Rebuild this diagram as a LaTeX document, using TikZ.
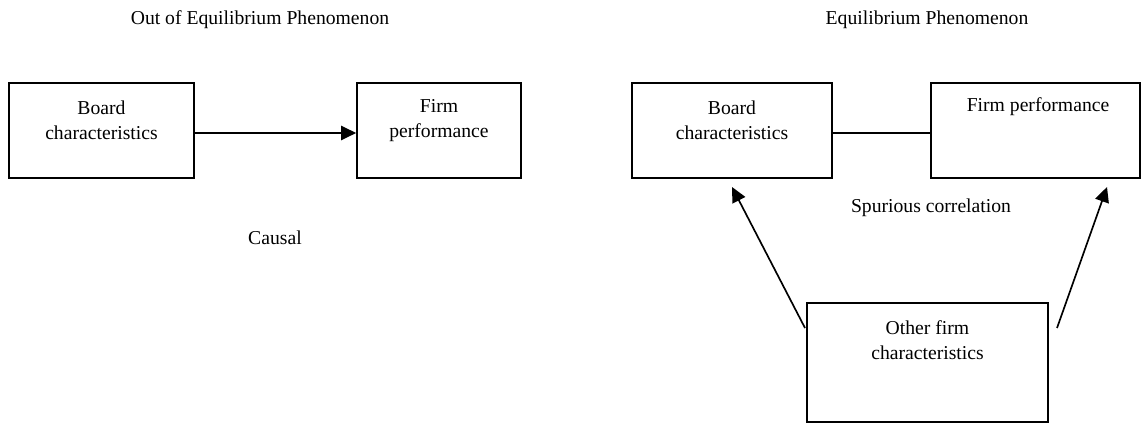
\documentclass[tikz,border=0pt]{standalone}
\usepackage{fontspec}
\setmainfont{Liberation Serif}
\usetikzlibrary{arrows.meta}
\begin{document}
\begin{tikzpicture}[x=0.6pt,y=-0.6pt,
  box/.style={draw,line width=1pt,inner sep=0pt},
  txt/.style={font=\fontsize{11.8}{15}\selectfont,align=center,inner sep=0pt},
  link/.style={line width=1pt},
  arr/.style={link,-{Triangle[length=9pt,width=8.5pt]}}]
  \useasboundingbox (0,0) rectangle (1143,423);

  % boxes
  \node[box,minimum width=185*0.6pt,minimum height=95*0.6pt] (b1) at (101.5,130.5) {};
  \node[box,minimum width=164*0.6pt,minimum height=95*0.6pt] (p1) at (439,130.5) {};
  \node[box,minimum width=200*0.6pt,minimum height=95*0.6pt] (b2) at (732,130.5) {};
  \node[box,minimum width=209*0.6pt,minimum height=95*0.6pt] (p2) at (1035.5,130.5) {};
  \node[box,minimum width=241*0.6pt,minimum height=119*0.6pt] (o) at (927.5,362.5) {};

  % box texts
  \node[txt] (tb1) at (101.5,120) {Board\\characteristics};
  \node[txt] (tp1) at (439,120.5) {Firm\\performance};
  \node[txt] (tb2) at (732,120) {Board\\characteristics};
  \node[txt] (tp2) at (1038,107) {Firm performance};
  \node[txt] (to) at (927.5,340.5) {Other firm\\characteristics};

  % headings and captions
  \node[txt] (h1) at (260,20) {Out of Equilibrium Phenomenon};
  \node[txt] (h2) at (927,20) {Equilibrium Phenomenon};
  \node[txt] (c1) at (275,238) {Causal};
  \node[txt] (c2) at (931,208) {Spurious correlation};

  % connectors
  \draw[arr] (b1.east |- 0,133) -- (p1.west |- 0,133);
  \draw[link] (b2.east |- 0,133) -- (p2.west |- 0,133);

  \coordinate (oL) at (805,328);
  \coordinate (bT) at (732,187);
  \coordinate (oR) at (1057,328);
  \coordinate (pT) at (1107,187);
  \draw[arr] (oL) -- (bT);
  \draw[arr] (oR) -- (pT);
\end{tikzpicture}
\end{document}
